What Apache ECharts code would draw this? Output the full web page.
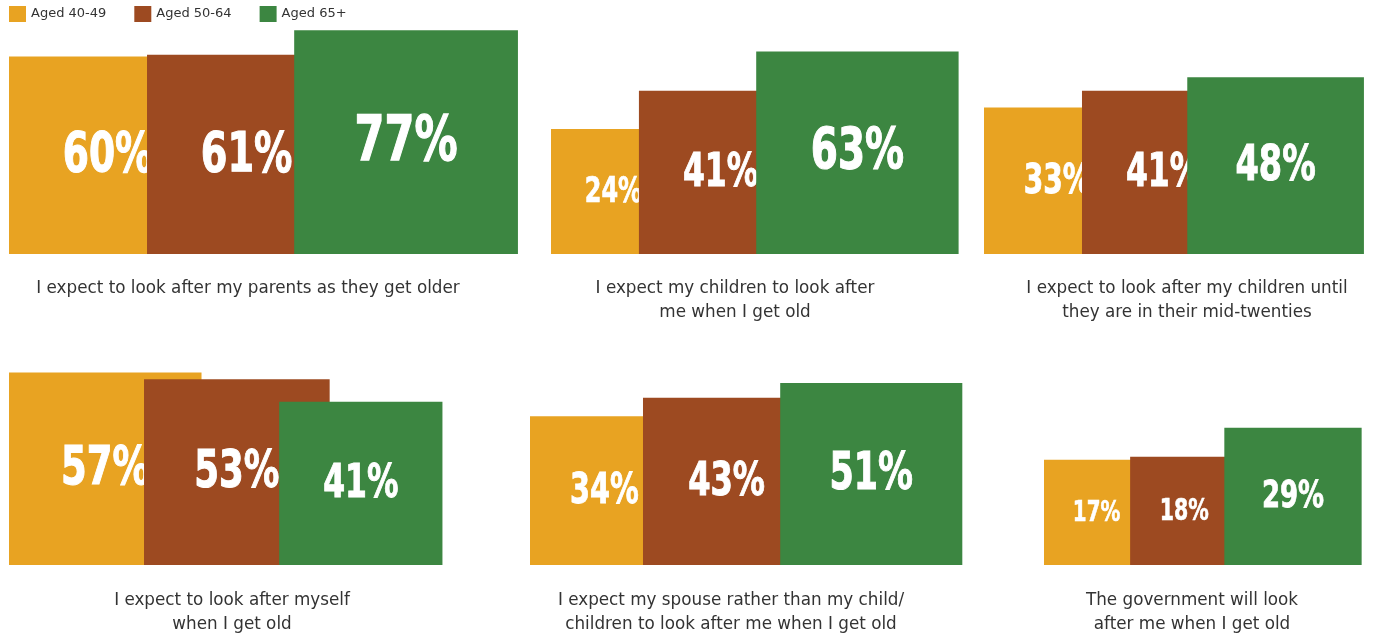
<!DOCTYPE html>
<html>
<head>
<meta charset="utf-8">
<script src="https://cdn.jsdelivr.net/npm/echarts@6/dist/echarts.min.js"></script>
<style>
  html, body { margin: 0; padding: 0; background: #ffffff; }
  #chart { width: 1373px; height: 638px; }
</style>
</head>
<body>
<div id="chart"></div>
<script>
// Survey answers: share of each age group agreeing with a statement (%)
const ageGroups = ['Aged 40-49', 'Aged 50-64', 'Aged 65+'];
const statements = [
  'I expect to look after my parents as they get older',
  'I expect my children to look after\nme when I get old',
  'I expect to look after my children until\nthey are in their mid-twenties',
  'I expect to look after myself\nwhen I get old',
  'I expect my spouse rather than my child/\nchildren to look after me when I get old',
  'The government will look\nafter me when I get old'
];
const aged40to49 = [60, 24, 33, 57, 34, 17];
const aged50to64 = [61, 41, 41, 53, 43, 18];
const aged65plus = [77, 63, 48, 41, 51, 29];

// ---- presentation ----
const colors = ['#E8A322', '#9D4A21', '#3C8641'];
const LABEL_FONT = '"DejaVu Sans", Lato, sans-serif';
const VALUE_FONT = '"DejaVu Sans Condensed", "DejaVu Sans", sans-serif';
const VALUE_SQUEEZE = 0.76;   // horizontal squeeze for the big percentage figures

// Squares are sized so that their area is proportional to the value:
// axes run in sqrt(percent) units, UNIT pixels per unit.
const UNIT = 25.5;
const CHART_W = 1373;
const GRID_H = 240;

// Panel layout: left edge, baseline, caption centre/top, overlap (px) of each square onto the previous one
const panels = [
  { left: 9,    baseline: 254, capX: 248,  capTop: 277, overlap: [59.5, 52] },
  { left: 551,  baseline: 254, capX: 735,  capTop: 277, overlap: [37, 46] },
  { left: 984,  baseline: 254, capX: 1187, capTop: 277, overlap: [48.5, 58] },
  { left: 9,    baseline: 565, capX: 232,  capTop: 589, overlap: [57.5, 50.5] },
  { left: 530,  baseline: 565, capX: 731,  capTop: 589, overlap: [35.7, 30] },
  { left: 1044, baseline: 565, capX: 1192, capTop: 589, overlap: [19, 14] }
];

const groupValues = [aged40to49, aged50to64, aged65plus];

const grids = [], xAxes = [], yAxes = [], titles = [], series = [];

function renderSquare(params, api) {
  const x0 = api.value(0);
  const v = api.value(1);
  const s = Math.sqrt(v);
  const bl = api.coord([x0, 0]);
  const tr = api.coord([x0 + s, s]);
  const w = tr[0] - bl[0];
  const h = bl[1] - tr[1];
  const fs = Math.round(0.28 * h);
  return {
    type: 'group',
    children: [
      {
        type: 'rect',
        shape: { x: bl[0], y: tr[1], width: w, height: h },
        style: { fill: api.visual('color') }
      },
      {
        type: 'text',
        x: bl[0] + w / 2,
        y: tr[1] + h / 2 + 0.008 * h,
        scaleX: VALUE_SQUEEZE,
        style: {
          text: v + '%',
          fill: '#ffffff',
          stroke: '#ffffff',
          lineWidth: 0.02 * fs,
          fontFamily: VALUE_FONT,
          fontWeight: 'bold',
          fontSize: fs,
          align: 'center',
          verticalAlign: 'middle'
        }
      }
    ]
  };
}

panels.forEach((p, i) => {
  const gridW = Math.min(520, CHART_W - 4 - p.left);
  grids.push({ left: p.left, top: p.baseline - GRID_H, width: gridW, height: GRID_H });
  xAxes.push({ type: 'value', gridIndex: i, min: 0, max: gridW / UNIT, show: false });
  yAxes.push({ type: 'value', gridIndex: i, min: 0, max: GRID_H / UNIT, show: false });
  titles.push({
    text: statements[i],
    left: p.capX,
    top: p.capTop,
    textAlign: 'center',
    padding: 0,
    textStyle: {
      fontFamily: LABEL_FONT,
      fontSize: 16.8,
      fontWeight: 'normal',
      color: '#333333',
      lineHeight: 24
    }
  });

  // each square starts where the previous one ends, minus the overlap
  let x = 0;
  groupValues.forEach((vals, g) => {
    const v = vals[i];
    series.push({
      type: 'custom',
      name: ageGroups[g],
      xAxisIndex: i,
      yAxisIndex: i,
      z: 2 + g,
      clip: false,
      silent: true,
      itemStyle: { color: colors[g] },
      renderItem: renderSquare,
      data: [[x, v]]
    });
    if (g < 2) x += Math.sqrt(v) - p.overlap[g] / UNIT;
  });
});

const chart = echarts.init(document.getElementById('chart'), null, { renderer: 'canvas' });
chart.setOption({
  animation: false,
  backgroundColor: '#ffffff',
  color: colors,
  title: titles,
  legend: {
    data: ageGroups,
    left: 9,
    top: 6,
    padding: 0,
    icon: 'rect',
    itemWidth: 17,
    itemHeight: 16,
    itemGap: 28,
    selectedMode: false,
    textStyle: { fontFamily: LABEL_FONT, fontSize: 13, color: '#333333' }
  },
  grid: grids,
  xAxis: xAxes,
  yAxis: yAxes,
  series: series
});
</script>
</body>
</html>
